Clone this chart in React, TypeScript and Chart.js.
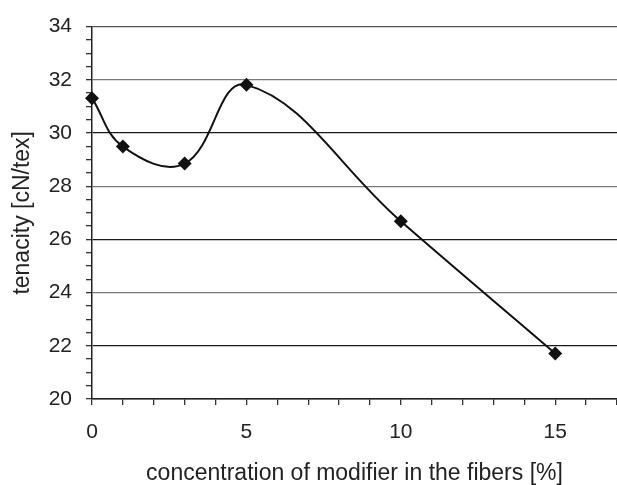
import React, { useEffect, useRef } from "react";
import { Chart, registerables } from "chart.js";

Chart.register(...registerables);

const concentrations = [0, 1, 3, 5, 10, 15];
const tenacity = [31.31, 29.49, 28.85, 31.81, 26.68, 21.71];
const yLabelValues = [20, 22, 24, 26, 28, 30, 32, 34];
const xLabelValues = [0, 5, 10, 15];
const xTitle = "concentration of modifier in the fibers [%]";
const yTitle = "tenacity [cN/tex]";

const FONT = "'Liberation Sans', Arial, Helvetica, sans-serif";
const INK = "#222";

const near = (v: number, list: number[]) => list.some((l) => Math.abs(l - v) < 1e-6);

const gridColorFor = (v: number) => {
  if (!near(v, yLabelValues)) return "rgba(0,0,0,0)";
  if (near(v, [22, 26, 30])) return "#1a1a1a";
  if (near(v, [34])) return "#555";
  if (near(v, [20])) return "#1a1a1a";
  return "#7a7a7a";
};

export default function App() {
  const ref = useRef<HTMLCanvasElement | null>(null);

  useEffect(() => {
    if (!ref.current) return;
    const chart = new Chart(ref.current, {
      type: "line",
      data: {
        datasets: [
          {
            data: concentrations.map((c, i) => ({ x: c, y: tenacity[i] })),
            borderColor: "#111",
            borderWidth: 2,
            backgroundColor: "#111",
            pointStyle: "rectRot",
            pointRadius: 7,
            pointBorderWidth: 0,
            pointBackgroundColor: "#111",
            tension: 0.4,
            fill: false,
            clip: false,
          },
        ],
      },
      options: {
        animation: false,
        responsive: false,
        devicePixelRatio: 1,
        layout: { autoPadding: false, padding: { top: 24, right: 0, left: 0, bottom: 0 } },
        plugins: { legend: { display: false }, tooltip: { enabled: false } },
        scales: {
          x: {
            type: "linear",
            min: 0,
            max: 17,
            afterFit: (s: any) => {
              s.height = 86;
              s.paddingRight = 0;
              s.paddingLeft = 0;
            },
            border: { display: true, color: INK, width: 1.5 },
            grid: {
              drawOnChartArea: false,
              tickLength: 6,
              tickColor: "#333",
              lineWidth: 1.3,
            },
            ticks: {
              stepSize: 1,
              autoSkip: false,
              maxRotation: 0,
              padding: 15,
              color: INK,
              font: { family: FONT, size: 21 },
              callback: (v: any) => (near(Number(v), xLabelValues) ? String(v) : ""),
            },
            title: {
              display: true,
              text: xTitle,
              color: INK,
              font: { family: FONT, size: 23 },
              padding: { top: 0, bottom: -2 },
            },
          },
          y: {
            type: "linear",
            min: 20,
            max: 34,
            afterFit: (s: any) => {
              s.width = 92;
            },
            border: { display: true, color: INK, width: 1.5 },
            grid: {
              color: (ctx: any) => gridColorFor(ctx.tick ? ctx.tick.value : 0),
              lineWidth: 1.3,
              tickLength: 6,
              tickColor: "#333",
            },
            ticks: {
              stepSize: 0.5,
              autoSkip: false,
              padding: 14,
              color: INK,
              font: { family: FONT, size: 21 },
              callback: (v: any) => (near(Number(v), yLabelValues) ? String(v) : ""),
            },
            title: {
              display: true,
              text: yTitle,
              color: INK,
              font: { family: FONT, size: 23 },
              padding: { top: 9, bottom: 0 },
            },
          },
        },
      },
    } as any);
    return () => chart.destroy();
  }, []);

  return (
    <div style={{ position: "fixed", left: 0, top: 0, width: 617, height: 485, background: "#fff" }}>
      <canvas ref={ref} width={617} height={485} />
    </div>
  );
}
